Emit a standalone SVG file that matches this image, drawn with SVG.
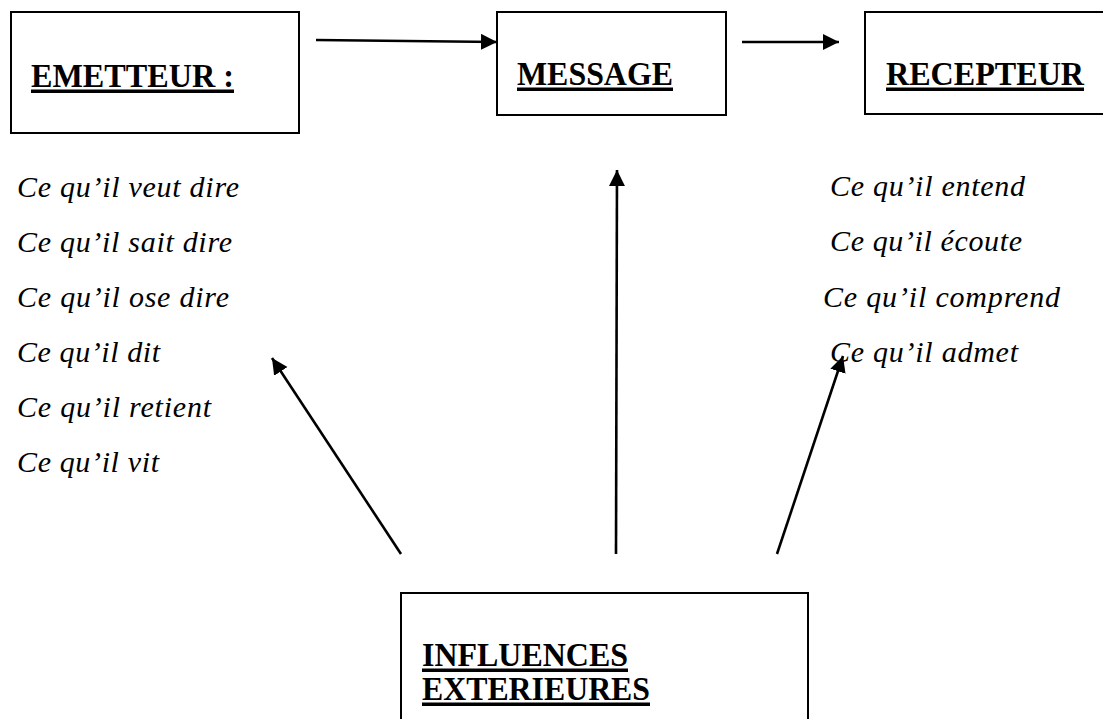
<svg xmlns="http://www.w3.org/2000/svg" width="1103" height="719" viewBox="0 0 1103 719">
  <style>
    .box { fill: #ffffff; stroke: #000000; stroke-width: 2; }
    .title { font-family: "Liberation Serif", "Times New Roman", serif; font-weight: bold; font-size: 33px; fill: #000000; }
    .uline { fill: #000000; }
    .item { font-family: "Liberation Serif", "Times New Roman", serif; font-style: italic; font-size: 30px; fill: #000000; }
    .arrow { fill: none; stroke: #000000; stroke-width: 2.6; marker-end: url(#head); }
  </style>
  <defs>
    <marker id="head" markerUnits="userSpaceOnUse" markerWidth="17" markerHeight="17" refX="16" refY="8" orient="auto">
      <path d="M0,0 L16,8 L0,16 Z" fill="#000000"/>
    </marker>
  </defs>
  <rect width="1103" height="719" fill="#ffffff"/>

  <!-- sender -->
  <g id="emetteur">
    <rect class="box" x="11" y="12" width="288" height="121"/>
    <text class="title" x="31" y="87" textLength="203" lengthAdjust="spacingAndGlyphs">EMETTEUR :</text>
    <rect class="uline" x="31" y="89.5" width="203" height="3.5"/>
  </g>

  <!-- message -->
  <g id="message">
    <rect class="box" x="497" y="12" width="229" height="103"/>
    <text class="title" x="517" y="85" textLength="156" lengthAdjust="spacingAndGlyphs">MESSAGE</text>
    <rect class="uline" x="517" y="87.5" width="156" height="3.5"/>
  </g>

  <!-- receiver -->
  <g id="recepteur">
    <rect class="box" x="865" y="12" width="250" height="102"/>
    <text class="title" x="886" y="85" textLength="198" lengthAdjust="spacingAndGlyphs">RECEPTEUR</text>
    <rect class="uline" x="886" y="87.5" width="198" height="3.5"/>
  </g>

  <!-- external influences -->
  <g id="influences">
    <rect class="box" x="401" y="593" width="407" height="140"/>
    <text class="title" x="422" y="666" textLength="206" lengthAdjust="spacingAndGlyphs">INFLUENCES</text>
    <rect class="uline" x="422" y="668.5" width="206" height="3.5"/>
    <text class="title" x="422" y="700" textLength="228" lengthAdjust="spacingAndGlyphs">EXTERIEURES</text>
    <rect class="uline" x="422" y="702.5" width="228" height="3.5"/>
  </g>

  <!-- sender side list -->
  <g id="emetteur-liste">
    <text class="item" x="17" y="197" textLength="222" lengthAdjust="spacing">Ce qu’il veut dire</text>
    <text class="item" x="17" y="252" textLength="215" lengthAdjust="spacing">Ce qu’il sait dire</text>
    <text class="item" x="17" y="307" textLength="212" lengthAdjust="spacing">Ce qu’il ose dire</text>
    <text class="item" x="17" y="362" textLength="143" lengthAdjust="spacing">Ce qu’il dit</text>
    <text class="item" x="17" y="417" textLength="194" lengthAdjust="spacing">Ce qu’il retient</text>
    <text class="item" x="17" y="472" textLength="142" lengthAdjust="spacing">Ce qu’il vit</text>
  </g>

  <!-- receiver side list -->
  <g id="recepteur-liste">
    <text class="item" x="830" y="196" textLength="195" lengthAdjust="spacing">Ce qu’il entend</text>
    <text class="item" x="830" y="251" textLength="192" lengthAdjust="spacing">Ce qu’il écoute</text>
    <text class="item" x="823" y="307" textLength="237" lengthAdjust="spacing">Ce qu’il comprend</text>
    <text class="item" x="830" y="362" textLength="188" lengthAdjust="spacing">Ce qu’il admet</text>
  </g>

  <!-- connectors -->
  <g id="connectors">
    <line class="arrow" x1="316" y1="40" x2="497" y2="42"/>
    <line class="arrow" x1="742" y1="42" x2="839" y2="42"/>
    <line class="arrow" x1="616" y1="554" x2="617" y2="170"/>
    <line class="arrow" x1="401" y1="554" x2="272" y2="358"/>
    <line class="arrow" x1="777" y1="554" x2="843" y2="356"/>
  </g>
</svg>
